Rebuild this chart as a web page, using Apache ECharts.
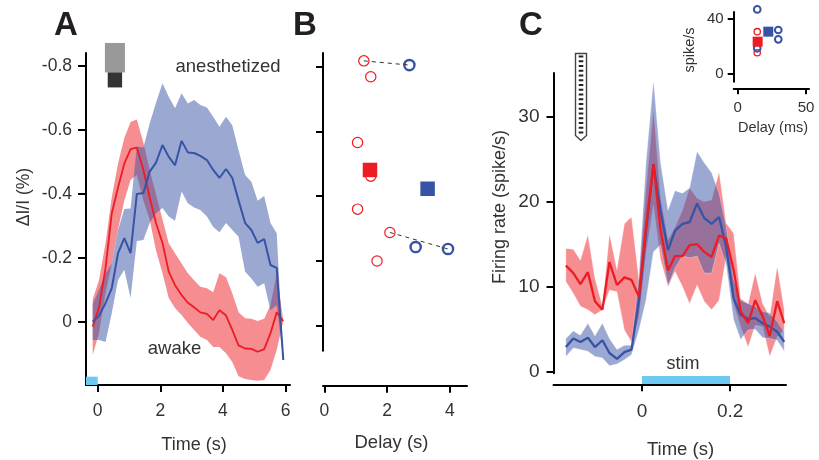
<!DOCTYPE html>
<html><head><meta charset="utf-8">
<style>html,body{margin:0;padding:0;background:#fff}#c{width:819px;height:460px}</style>
<script src="https://cdn.jsdelivr.net/npm/echarts@6/dist/echarts.min.js"></script>
</head><body><div id="c"></div>
<script>
const timeA=[-0.16,0.04,0.25,0.45,0.65,0.85,1.05,1.25,1.46,1.66,1.86,2.07,2.27,2.47,2.68,2.88,3.08,3.28,3.49,3.69,3.89,4.1,4.3,4.5,4.71,4.91,5.11,5.32,5.52,5.72,5.93];
const awakeMean=[0.015,-0.044,-0.168,-0.34,-0.42,-0.495,-0.54,-0.545,-0.475,-0.39,-0.31,-0.247,-0.157,-0.115,-0.084,-0.06,-0.046,-0.03,-0.025,-0.006,-0.037,-0.02,0.025,0.073,0.083,0.084,0.093,0.085,0.035,-0.03,-0.003];
const awakeUpper=[-0.07,-0.13,-0.246,-0.39,-0.495,-0.575,-0.625,-0.633,-0.56,-0.475,-0.4,-0.32,-0.246,-0.215,-0.183,-0.152,-0.13,-0.11,-0.105,-0.093,-0.152,-0.14,-0.09,-0.03,-0.012,-0.01,-0.003,-0.01,-0.053,-0.152,-0.003];
const awakeLower=[0.103,0.035,-0.09,-0.183,-0.29,-0.38,-0.444,-0.46,-0.38,-0.32,-0.225,-0.152,-0.075,-0.044,-0.022,0.003,0.025,0.046,0.056,0.078,0.078,0.098,0.125,0.17,0.178,0.181,0.184,0.181,0.15,0.087,-0.003];
const anesMean=[-0.001,-0.019,-0.059,-0.106,-0.215,-0.262,-0.215,-0.4,-0.403,-0.47,-0.497,-0.553,-0.516,-0.49,-0.566,-0.53,-0.528,-0.519,-0.506,-0.475,-0.45,-0.478,-0.45,-0.38,-0.309,-0.2875,-0.247,-0.259,-0.178,-0.169,0.119];
const anesUpper=[-0.056,-0.1,-0.152,-0.183,-0.2875,-0.353,-0.355,-0.548,-0.545,-0.62,-0.684,-0.746,-0.704,-0.668,-0.715,-0.683,-0.694,-0.678,-0.67,-0.641,-0.61,-0.641,-0.615,-0.537,-0.459,-0.438,-0.379,-0.394,-0.309,-0.277,0.119];
const anesLower=[0.056,0.056,0.063,-0.028,-0.131,-0.163,-0.075,-0.253,-0.256,-0.309,-0.34,-0.356,-0.33,-0.316,-0.408,-0.371,-0.358,-0.35,-0.33,-0.297,-0.28,-0.309,-0.2875,-0.266,-0.157,-0.136,-0.11,-0.121,-0.037,-0.053,0.119];

const delayAwakeB=[[1.26,-0.818],[1.48,-0.769],[1.06,-0.566],[1.48,-0.462],[1.06,-0.36],[2.09,-0.288],[1.68,-0.2]];
const delayAnesB=[[2.71,-0.805],[2.91,-0.243],[3.94,-0.237]];
const meanAwakeB=[[1.455,-0.481]];
const meanAnesB=[[3.29,-0.423]];
const pairOneB=[[1.26,-0.818],[2.71,-0.805]];
const pairTwoB=[[2.09,-0.288],[3.94,-0.237]];

const timeC=[-0.173,-0.156,-0.14,-0.123,-0.107,-0.09,-0.074,-0.057,-0.04,-0.024,-0.007,0.009,0.026,0.042,0.059,0.075,0.092,0.108,0.125,0.141,0.158,0.175,0.191,0.208,0.224,0.241,0.257,0.274,0.29,0.307,0.323];
const rateAwakeMean=[12.5,11.6,10.3,11.7,8.3,7.3,12.9,10.2,11.1,10.8,8.8,17.1,24.4,16.7,11.9,13.6,13.6,14.9,15,14.1,13.5,16,15.7,12,7.1,5.7,8.4,6.5,4.2,8.3,5.7];
const rateAwakeUpper=[14.5,14.4,13.1,16.1,11,7.7,16.2,12,17.4,18.2,10.8,21.4,30.8,20.5,15.5,17,19,21.6,20.4,20,20.2,23.5,17.5,16.3,8.6,8,11.6,8,6.5,12.4,7.3];
const rateAwakeLower=[10.6,9.2,7.7,7.3,6.7,7.3,9.6,9.4,4.9,3.5,6.5,13.9,19.6,13.2,10,11.8,10,8,10.2,8.3,7.3,8.4,13.6,8,5.3,2.9,5.5,5.3,1.8,4.1,4.9];
const rateAnesMean=[2.9,3.9,3.5,4,2.9,3.7,2.2,1.5,2.3,2.6,8.4,16.5,24.4,18.9,14.3,16.6,17.4,17.6,19.8,18.1,17.4,18.2,14.7,8.6,6.7,6.2,6.3,5.7,5.3,4.7,3.5];
const rateAnesUpper=[3.9,4.8,4.3,5.7,4.2,5.7,3.9,2.6,3.1,3.1,11.2,24.6,34.3,24.6,19,21.3,21,21.6,25.9,24.6,23.4,21,17.1,10.8,8.4,8,7.7,7.1,6.9,5.9,4.7];
const rateAnesLower=[1.8,2.8,2.6,2.4,1.8,1.6,0.7,0.9,1.4,2,4.9,8.4,14.1,14.9,10.1,12.2,13.6,13.4,13.6,11.6,11.6,15.1,12.6,6.1,3.8,4.9,5,4,3.9,3.7,2.4];

const insetAwake=[[14.3,30.8],[14.3,15.5]];
const insetAnes=[[14.3,47],[29.7,32],[29.7,25.2],[14.3,18.7]];
const insetMeanAwake=[[14.6,23.5]];
const insetMeanAnes=[[22.4,30.8]];

const ticksA=[-0.8,-0.6,-0.4,-0.2,0];
const ticksAX=[0,2,4,6];
const ticksBX=[0,2,4];
const ticksC=[0,10,20,30];
const ticksCX=[0,0.2];
const ticksInsetY=[0,40];
const ticksInsetX=[0,50];

const RED='#ed1c24',BLUE='#3753a5',INK='#333333',FONT='"Liberation Sans",Arial,sans-serif';

function band(xs,up,lo,color,g,edge){
  return {type:'custom',xAxisIndex:g,yAxisIndex:g,clip:false,silent:true,data:[[xs[0],up[0]]],
    encode:{x:0,y:1},
    renderItem:(p,api)=>{
      const pts=[];
      xs.forEach((x,i)=>pts.push(api.coord([x,up[i]])));
      for(let i=xs.length-1;i>=0;i--)pts.push(api.coord([xs[i],lo[i]]));
      return {type:'polygon',shape:{points:pts},style:{fill:color,opacity:0.5,stroke:edge?'#ffffff':null,lineWidth:edge?0.6:0}};
    }};
}
function box(x0,x1,y0,y1,color,g,z){
  return {type:'custom',xAxisIndex:g,yAxisIndex:g,clip:false,silent:true,z:z||3,data:[[x0,y0]],encode:{x:0,y:1},
    renderItem:(p,api)=>{
      const a=api.coord([x0,y0]),b=api.coord([x1,y1]);
      return {type:'rect',shape:{x:Math.min(a[0],b[0]),y:Math.min(a[1],b[1]),width:Math.abs(a[0]-b[0]),height:Math.abs(a[1]-b[1])},style:{fill:color}};
    }};
}
function line(xs,ys,color,g,w,z){
  return {type:'line',xAxisIndex:g,yAxisIndex:g,clip:false,silent:true,showSymbol:false,z:z||2,
    data:xs.map((x,i)=>[x,ys[i]]),lineStyle:{color:color,width:w},itemStyle:{color:color}};
}
function dots(data,color,size,bw,z){return g=>({type:'scatter',xAxisIndex:g,yAxisIndex:g,clip:false,silent:true,z:z||3,symbol:'circle',symbolSize:size,data:data,
    itemStyle:{color:'rgba(255,255,255,0)',borderColor:color,borderWidth:bw,opacity:1}});}
function squares(data,color,size,g){return {type:'scatter',xAxisIndex:g,yAxisIndex:g,clip:false,silent:true,z:4,symbol:'rect',symbolSize:size,data:data,itemStyle:{color:color,opacity:1}};}
function dashed(data,g){return {type:'line',xAxisIndex:g,yAxisIndex:g,clip:false,silent:true,showSymbol:false,z:5,data:data,lineStyle:{color:'#333',width:1,type:[4,4]}};}

const axisLine={show:true,onZero:false,lineStyle:{color:'#000',width:2}};
function xAx(g,min,max,vals,size,len,margin,offset,fmt){
  return {type:'value',gridIndex:g,min,max,position:'bottom',offset:offset||0,splitLine:{show:false},axisLine,
    axisTick:{show:true,length:len,customValues:vals,lineStyle:{color:'#000',width:2}},
    axisLabel:{customValues:vals,fontSize:size,color:INK,fontFamily:FONT,margin,hideOverlap:false,formatter:fmt||(v=>String(v))}};
}
function yAx(g,min,max,vals,size,len,margin,inverse,hide){
  return {type:'value',gridIndex:g,min,max,inverse:!!inverse,position:'left',splitLine:{show:false},axisLine,
    axisTick:{show:true,length:len,customValues:vals,lineStyle:{color:'#000',width:2}},
    axisLabel:{show:!hide,customValues:vals,fontSize:size,color:INK,fontFamily:FONT,margin,hideOverlap:false,formatter:v=>String(v)}};
}
function txt(text,x,y,size,opt){
  opt=opt||{};
  return {type:'text',x,y,rotation:opt.rot||0,z:20,silent:true,
    style:{text,align:'center',verticalAlign:'middle',textAlign:'center',textVerticalAlign:'middle',fontSize:size,fontFamily:FONT,fontWeight:opt.bold?'bold':'normal',fill:opt.fill||INK}};
}
const probe=[{type:'polygon',z:20,silent:true,shape:{points:[[575.5,53.5],[586.5,53.5],[586.5,135.5],[581,140.5],[575.5,135.5]]},style:{fill:'#fff',stroke:'#444',lineWidth:1.4}}];
for(let i=0;i<17;i++)probe.push({type:'rect',z:21,silent:true,shape:{x:578.7,y:55.5+i*4.75,width:4.6,height:2},style:{fill:'#222'}});

const option={animation:false,backgroundColor:'#fff',
 grid:[
  {left:86,top:53,width:204,height:332},
  {left:323,top:53,width:144,height:297.7},
  {left:553.5,top:73,width:232.5,height:300.3},
  {left:733.7,top:12,width:75.3,height:69.7}
 ],
 xAxis:[
  xAx(0,-0.374,6.144,ticksAX,17.5,7,17),
  xAx(1,-0.041,4.545,ticksBX,17.5,7,16,35),
  xAx(2,-0.2011,0.327,ticksCX,19,7,18,11),
  xAx(3,-2.93,52.2,ticksInsetX,15,6,12,6.6)
 ],
 yAxis:[
  yAx(0,-0.8406,0.197,ticksA,17.5,8,14,true),
  yAx(1,-0.8423,0.0772,ticksA,17.5,7,14,true,true),
  yAx(2,-0.19,35.14,ticksC,19,7,14),
  yAx(3,-5.6,45.1,ticksInsetY,15,6,10)
 ],
 series:[
  band(timeA,awakeUpper,awakeLower,RED,0),
  Object.assign(line(timeA,awakeMean,RED,0,1.8),{z:2}),
  Object.assign(band(timeA,anesUpper,anesLower,BLUE,0),{z:2}),
  line(timeA,anesMean,BLUE,0,2),
  box(0.23,0.87,-0.872,-0.78,'#999999',0),
  box(0.32,0.78,-0.78,-0.733,'#333333',0),
  box(-0.374,0,0.171,0.197,'#6dc8f2',0),

  dots(delayAwakeB,RED,10.3,1.2)(1),
  dots(delayAnesB,BLUE,10.2,2.4)(1),
  squares(meanAwakeB,RED,14.5,1),
  squares(meanAnesB,BLUE,14.5,1),
  dashed(pairOneB,1),
  dashed(pairTwoB,1),

  band(timeC,rateAwakeUpper,rateAwakeLower,RED,2,true),
  band(timeC,rateAnesUpper,rateAnesLower,BLUE,2,true),
  line(timeC,rateAnesMean,BLUE,2,2.3,3),
  line(timeC,rateAwakeMean,RED,2,2.3,4),
  box(0,0.2,-1.447,-0.5,'#6dc8f2',2),

  dots(insetAwake,RED,6.3,1.3)(3),
  dots(insetAnes,BLUE,6.7,2)(3),
  squares(insetMeanAwake,RED,10,3),
  squares(insetMeanAnes,BLUE,10,3)
 ],
 graphic:{elements:[
  txt('A',66,26,33,{bold:true,fill:'#231f20'}),
  txt('B',305,26,33,{bold:true,fill:'#231f20'}),
  txt('C',531,26,33,{bold:true,fill:'#231f20'}),
  txt('anesthetized',228,67,18.5),
  txt('awake',174.5,349,18.5),
  txt('stim',683,364,18),
  txt('ΔI/I (%)',24,197,17.5,{rot:Math.PI/2}),
  txt('Time (s)',194,445,18),
  txt('Delay (s)',391.5,443,18.5),
  txt('Firing rate (spike/s)',500,207,18,{rot:Math.PI/2}),
  txt('Time (s)',680.5,450,18.5),
  txt('spike/s',690,50,14.5,{rot:Math.PI/2}),
  txt('Delay (ms)',773,128,14.5)
 ].concat(probe)}
};
const chart=echarts.init(document.getElementById('c'),null,{renderer:'canvas'});
chart.setOption(option);
</script></body></html>
